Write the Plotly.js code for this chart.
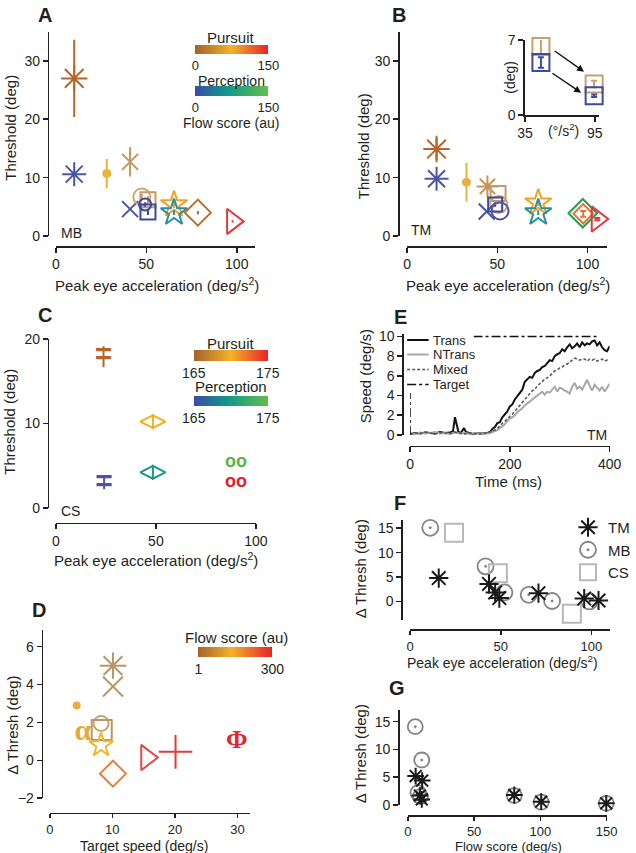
<!DOCTYPE html>
<html><head><meta charset="utf-8">
<script src="https://cdn.plot.ly/plotly-3.0.1.min.js"></script>
<style>html,body{margin:0;padding:0;background:#fff}#chart{width:636px;height:853px}</style>
</head><body><div id="chart"></div>
<script>
const W=636,H=853;
const px=v=>v/W, py=v=>1-v/H;
const FONT='Liberation Sans, Arial, sans-serif';
const INK='#231f20';

// ===== Panel A (MB): peak eye acceleration vs threshold =====
const A_acc=[10.1,10.1,28.1,41.0,41.0,47.5,50.9,49.3,50.9,65.3,65.3,78.5,97.7];
const A_thr=[27.0,10.6,10.7,12.7,4.6,6.7,6.2,5.4,4.1,5.4,4.0,4.0,2.5];
const A_err=[6.6,0,2.5,2.5,0,0.5,0.6,0.4,0.5,0.6,0.4,0.3,0.2];
const A_sym=['asterisk-open','asterisk-open','circle','x-thin-open','x-thin-open','circle-open','square-open','circle-open','square-open','star-open','star-open','diamond-open','triangle-right-open'];
const A_col=['#b5672a','#4b55a8','#e9b23a','#c3965e','#4a53a6','#d4a468','#c49a6a','#3d4aa0','#3a4aa0','#f0a522','#2a8fa0','#bb6d32','#dd3b3b'];
const A_size=[22,20,9,16,16,17,15,12,15,20,20,20,22];

// ===== Panel B (TM) =====
const B_acc=[16.3,16.3,32.9,44.5,50.4,50.8,44.1,48.8,51.5,72.7,72.7,97.4,97.6,105.4];
const B_thr=[14.9,9.8,9.2,8.5,7.3,5.4,4.2,5.4,4.3,5.7,4.0,3.9,3.8,2.9];
const B_err=[1.9,0,3.3,0.8,0,0,0,0.4,0,0.6,0.4,0,0.5,0.2];
const B_sym=['asterisk-open','asterisk-open','circle','asterisk-open','square-open','circle-open','x-thin-open','square-open','circle-open','star-open','star-open','diamond-open','diamond-open','triangle-right-open'];
const B_col=['#b5672a','#4b55a8','#e9b23a','#c3965e','#c49a6a','#d4a468','#4a53a6','#3a4aa0','#4a53b0','#f0a522','#2a8fa0','#2a9a55','#e8742e','#dd3b3b'];
const B_size=[22,20,9,18,15,17,16,14,17,20,20,22,15,22];

// ===== Panel B inset =====
const In_acc=[48.7,48.7,94.5,94.5];
const In_thr=[6.4,4.9,2.9,1.8];
const In_err=[0.7,0.5,0.3,0.12];
const In_col=['#c8a070','#3c4aa0','#c8a070','#3c4aa0'];
const arrowFrom=[[59.3,6.07],[57.3,3.99]];
const arrowTo=[[85.8,4.04],[83.3,2.08]];

// ===== Panel C (CS) =====
const C_acc=[23.8,24.1,48.5,48.5,90.1,90.1];
const C_thr=[17.9,2.9,10.2,4.2,5.3,3.0];
const C_err=[1.25,0.7,0.9,0.9,0,0];
const C_glyph=['=','=','◇','◇','oo','oo'];
const C_col=['#b5672a','#4b55a8','#f0b020','#16998a','#5ab544','#e0202e'];

// ===== Panel D: target speed vs delta threshold =====
const D_spd=[10.1,10.1,4.3,5.3,8.2,8.3,8.2,10.1,15.5,20.1,29.9];
const D_dth=[5.0,3.9,2.9,1.45,1.95,1.6,0.8,-0.7,0.15,0.45,1.0];
const D_sym=['asterisk-open','x-thin-open','circle','α','circle-open','square-open','star-open','diamond-open','triangle-right-open','cross-thin-open','Φ'];
const D_col=['#b8956a','#b8956a','#e8b040','#e4aa35','#c9a56e','#b9976c','#f0b830','#e87b3a','#e04848','#e63a36','#dc2a34'];
const D_size=[22,20,8,30,15,20,18,20,22,24,26];

// ===== Panel E: eye speed traces (TM) =====
const E_names=['Trans','NTrans','Mixed','Target'];
const Tr_t=[0,10,20,30,40,50,60,70,80,86,90,93,97,102,108,112,118,125,135,145,155,160,165,170,175,180,185,190,195,200,205,210,215,220,225,230,235,240,245,250,255,260,265,270,275,280,285,290,295,300,305,310,315,320,325,330,335,340,345,350,355,360,365,370,375,380,385,390,395,400];
const Tr_v=[0.1,0.2,0.15,0.25,0.2,0.15,0.3,0.2,0.25,0.4,1.8,1.0,0.3,0.2,0.7,0.3,0.2,0.1,0.2,0.15,0.2,0.3,0.6,0.8,1.2,1.3,1.8,2.1,2.4,2.9,3.1,3.6,3.9,4.2,4.6,5.4,5.7,5.9,5.8,6.3,6.5,6.6,6.9,7.0,7.3,7.6,7.5,8.0,8.2,8.3,8.7,8.5,8.9,9.2,8.8,9.0,9.3,8.9,9.4,9.1,9.3,9.2,9.5,9.6,9.1,9.4,8.9,8.6,8.5,9.0];
const Ot_t=[0,10,20,30,40,50,60,70,80,90,100,110,120,130,140,150,155,160,165,170,175,180,185,190,195,200,205,210,215,220,225,230,235,240,245,250,255,260,265,270,275,280,285,290,295,300,305,310,315,320,325,330,335,340,345,350,355,360,365,370,375,380,385,390,395,400];
const NTr_v=[0.2,0.1,0.25,0.15,0.2,0.3,0.15,0.2,0.1,0.25,0.15,0.2,0.1,0.2,0.15,0.1,0.15,0.2,0.3,0.4,0.5,0.7,0.9,1.1,1.4,1.7,1.8,2.0,2.3,2.5,2.7,3.0,3.2,3.4,3.6,3.8,4.0,4.2,4.4,4.1,4.4,4.3,4.6,4.9,4.4,4.8,4.7,4.5,4.4,4.2,4.9,5.3,4.7,4.9,4.6,5.1,5.6,5.0,4.5,5.1,4.8,4.5,4.9,4.4,4.8,5.2];
const Mx_v=[0.1,0.2,0.15,0.3,0.2,0.1,0.25,0.2,0.15,0.3,0.2,0.1,0.2,0.15,0.1,0.2,0.2,0.3,0.4,0.5,0.7,0.9,1.2,1.4,1.6,1.9,2.1,2.4,2.7,2.9,3.2,3.5,3.8,4.1,4.5,4.6,5.0,5.2,5.4,5.7,5.8,6.0,6.3,6.5,6.6,6.8,6.9,7.1,7.2,7.4,7.6,7.8,7.7,7.6,7.7,7.7,7.5,7.7,7.6,7.7,7.5,7.6,7.7,7.5,7.6,7.5];
const Tg_t=[0,0,380];
const Tg_v=[0,10,10];

// ===== Panel F: delta threshold vs peak acceleration =====
const F_TM_acc=[15.8,43.5,46.9,49.2,70.8,96.0,103.9];
const F_TM_d=[4.8,3.6,1.85,0.7,1.7,0.6,0.2];
const F_MB_acc=[11.1,41.6,52.0,65.4,78.3,98.9];
const F_MB_d=[15.1,7.2,1.85,1.37,0.1,0.0];
const F_CS_acc=[24.2,48.4,89.2];
const F_CS_d=[14.1,5.8,-2.5];

// ===== Panel G: delta threshold vs flow score =====
const G_TM_flow=[5.9,10.8,9.1,10.5,80.3,100.6,149.7];
const G_TM_d=[5.2,4.4,1.7,1.0,1.8,0.6,0.3];
const G_MB_flow=[5.6,10.5,7.6,9.5,80.3,100.6,149.7];
const G_MB_d=[14.1,8.1,2.2,1.5,1.7,0.5,0.3];

// colour scales
const pursuitScale=[[0,'#a5622a'],[0.5,'#f3b228'],[1,'#e8232b']];
const perceptionScale=[[0,'#3b4ba3'],[0.45,'#12998a'],[1,'#62bd4c']];
const flowScale=[[0,'#a5622a'],[0.45,'#f3b228'],[1,'#e8232b']];

// ---------- builders ----------
const traces=[];
function mk(xa,ya,x,y,err,sym,col,size,cap){
  const filled = sym==='circle';
  traces.push({type:'scatter',mode:'markers',x:[x],y:[y],xaxis:xa,yaxis:ya,cliponaxis:false,showlegend:false,hoverinfo:'skip',
    marker:{symbol:sym,size:size,color:col,line:{color:col,width:filled?0:2}},
    error_y:{type:'data',array:[err],visible:err>0,color:col,thickness:2,width:cap||0}});
}
function gl(xa,ya,x,y,err,ch,col,size,fam,cap){
  traces.push({type:'scatter',mode:'text',x:[x],y:[y],text:[ch],textposition:'middle center',xaxis:xa,yaxis:ya,cliponaxis:false,showlegend:false,hoverinfo:'skip',
    textfont:{size:size,color:col,family:fam},
    error_y:{type:'data',array:[err],visible:err>0,color:col,thickness:2,width:cap||0}});
}
A_acc.forEach((v,i)=>mk('x','y',v,A_thr[i],A_err[i],A_sym[i],A_col[i],A_size[i]));
B_acc.forEach((v,i)=>mk('x2','y2',v,B_thr[i],B_err[i],B_sym[i],B_col[i],B_size[i],i>=12?3:0));
In_acc.forEach((v,i)=>mk('x3','y3',v,In_thr[i],In_err[i],'square-open',In_col[i],17,i===0?0:3));
C_acc.forEach((v,i)=>{
  if(C_glyph[i]==='◇') mk('x4','y4',v,C_thr[i],C_err[i],'diamond-wide-open',C_col[i],18);
  else if(C_glyph[i]==='=') gl('x4','y4',v,C_thr[i],C_err[i],'<b>=</b>',C_col[i],30,FONT);
  else gl('x4','y4',v,C_thr[i],C_err[i],'<b>oo</b>',C_col[i],18,FONT);
});
D_spd.forEach((v,i)=>{
  const s=D_sym[i];
  if(s==='α'||s==='Φ') gl('x5','y5',v,D_dth[i],0,'<b>'+s+'</b>',D_col[i],D_size[i],'Liberation Serif, serif');
  else mk('x5','y5',v,D_dth[i],0,s,D_col[i],D_size[i]);
});

// Panel E lines
const E_style=[{color:'#111',width:2},{color:'#a8a8a8',width:2},{color:'#555',width:1.5,dash:'3px,2px'},{color:'#111',width:1.5,dash:'dashdot'}];
const E_x=[Tr_t,Ot_t,Ot_t,Tg_t], E_y=[Tr_v,NTr_v,Mx_v,Tg_v];
E_names.forEach((n,i)=>traces.push({type:'scatter',mode:'lines',name:n,x:E_x[i],y:E_y[i],xaxis:'x6',yaxis:'y6',line:E_style[i],showlegend:false,hoverinfo:'skip'}));

// Panel F
traces.push({type:'scatter',mode:'markers',name:'MB',legend:'legend2',legendrank:2,x:F_MB_acc,y:F_MB_d,xaxis:'x7',yaxis:'y7',cliponaxis:false,hoverinfo:'skip',
  marker:{symbol:'circle-open-dot',size:16,color:'#858585',line:{color:'#858585',width:1.8}}});
traces.push({type:'scatter',mode:'markers',name:'CS',legend:'legend2',legendrank:3,x:F_CS_acc,y:F_CS_d,xaxis:'x7',yaxis:'y7',cliponaxis:false,hoverinfo:'skip',
  marker:{symbol:'square-open',size:18,color:'#b8b8b8',line:{color:'#b8b8b8',width:2}}});
traces.push({type:'scatter',mode:'markers',name:'TM',legend:'legend2',legendrank:1,x:F_TM_acc,y:F_TM_d,xaxis:'x7',yaxis:'y7',cliponaxis:false,hoverinfo:'skip',
  marker:{symbol:'asterisk-open',size:16,color:'#1a1a1a',line:{color:'#1a1a1a',width:2}}});
// Panel G
traces.push({type:'scatter',mode:'markers',showlegend:false,x:G_MB_flow,y:G_MB_d,xaxis:'x8',yaxis:'y8',cliponaxis:false,hoverinfo:'skip',
  marker:{symbol:'circle-open-dot',size:15,color:'#858585',line:{color:'#858585',width:1.8}}});
traces.push({type:'scatter',mode:'markers',showlegend:false,x:G_TM_flow,y:G_TM_d,xaxis:'x8',yaxis:'y8',cliponaxis:false,hoverinfo:'skip',
  marker:{symbol:'asterisk-open',size:14,color:'#1a1a1a',line:{color:'#1a1a1a',width:2}}});

// colour-bar carriers
['coloraxis','coloraxis2','coloraxis3','coloraxis4','coloraxis5'].forEach(c=>{
  traces.push({type:'scatter',mode:'markers',x:[null],y:[null],xaxis:'x',yaxis:'y',showlegend:false,hoverinfo:'skip',marker:{color:[0],coloraxis:c}});
});
function cbar(cx,ytop,len,thick,vals,txt,fs){
  return {orientation:'h',x:px(cx),xanchor:'center',y:py(ytop),yanchor:'top',len:len,lenmode:'pixels',thickness:thick,
    tickvals:vals,ticktext:txt,ticks:'',outlinewidth:0,xpad:0,ypad:0,tickfont:{size:fs||14,color:INK,family:FONT},title:{text:''}};
}

// ---------- axes ----------
const base={showline:true,linecolor:INK,linewidth:1.6,ticks:'outside',ticklen:5,tickwidth:1.6,tickcolor:INK,
  showgrid:false,zeroline:false,fixedrange:true,tickfont:{size:14,color:INK,family:FONT}};
function xax(x0,x1,range,posY,tv,anchor,extra){
  return Object.assign({},base,{domain:[px(x0),px(x1)],range:range,anchor:anchor||'free',position:anchor?undefined:py(posY),tickvals:tv},extra||{});
}
function yax(yTop,yBot,range,posX,tv,anchor){
  return Object.assign({},base,{domain:[py(yBot),py(yTop)],range:range,anchor:anchor||'free',position:anchor?undefined:px(posX),tickvals:tv});
}

const ann=[];
function txt(x,y,t,size,opt){ann.push(Object.assign({xref:'paper',yref:'paper',x:px(x),y:py(y),text:t,showarrow:false,
  xanchor:'center',yanchor:'middle',font:{size:size,color:INK,family:FONT}},opt||{}));}
// panel letters
[['A',46,15],['B',409,15],['C',46,315],['D',40,610],['E',410,317],['F',410,503],['G',407,688]].forEach(l=>txt(l[1],l[2],'<b>'+l[0]+'</b>',20));
// axis titles
const accTitle='Peak eye acceleration (deg/s<sup>2</sup>)';
txt(161,284,accTitle,15); txt(520,284,accTitle,15); txt(160,559,accTitle,15); txt(515,662,accTitle,14);
txt(147,846,'Target speed (deg/s)',14); txt(521,481,'Time (ms)',15); txt(521,846.5,'Flow score (deg/s)',13);
txt(10,128,'Threshold (deg)',15,{textangle:-90}); txt(372,146,'Threshold (deg)',15,{textangle:-90});
txt(10,422,'Threshold (deg)',15,{textangle:-90}); txt(12,725,'Δ Thresh (deg)',15,{textangle:-90});
txt(374,376,'Speed (deg/s)',15,{textangle:-90}); txt(369,569,'Δ Thresh (deg)',15,{textangle:-90});
txt(369,754,'Δ Thresh (deg)',15,{textangle:-90});
// subject labels
txt(60,233,'MB',14,{xanchor:'left'}); txt(419,230,'TM',14,{xanchor:'left'}); txt(60,511,'CS',14,{xanchor:'left'});
txt(624,435,'TM',14,{xanchor:'right'});
// colour bar titles
txt(237,37,'Pursuit',15); txt(237,80.5,'Perception',14); txt(237,123.5,'Flow score (au)',14);
txt(237,343,'Pursuit',15); txt(237,387,'Perception',15); txt(242,637,'Flow score (au)',15);
// inset labels
txt(522,77,'(deg)',14,{textangle:-90}); txt(577,130,'(°/s<sup>2</sup>)',14);
arrowFrom.forEach((f,i)=>ann.push({xref:'x3',yref:'y3',axref:'x3',ayref:'y3',x:arrowTo[i][0],y:arrowTo[i][1],ax:f[0],ay:f[1],
  showarrow:true,arrowhead:2,arrowsize:1,arrowwidth:1.4,arrowcolor:'#111',text:''}));

// panel E key (white backing + samples + labels)
const shapes=[{type:'rect',xref:'paper',yref:'paper',x0:px(414),x1:px(485),y0:py(393),y1:py(331),fillcolor:'#fff',line:{width:0},layer:'above'}];
const E_rows=[340,354.5,369.5,384.5];
E_names.forEach((n,i)=>{
  const st=E_style[i];
  shapes.push({type:'line',xref:'paper',yref:'paper',x0:px(417),x1:px(439),y0:py(E_rows[i]),y1:py(E_rows[i]),layer:'above',
    line:{color:st.color,width:st.width,dash:st.dash||'solid'}});
  txt(441,E_rows[i],n,13,{xanchor:'left'});
});

const small={tickfont:{size:13,color:INK,family:FONT},ticklen:4};
const layout={
  width:W,height:H,margin:{l:0,r:0,t:0,b:0},paper_bgcolor:'#fff',plot_bgcolor:'rgba(0,0,0,0)',
  font:{family:FONT,color:INK,size:14},showlegend:true,
  xaxis:xax(57.3,261,[0,110],246,[0,50,100]),
  yaxis:yax(31.7,236,[0,35],49,[0,10,20,30]),
  xaxis2:xax(417,622,[0,111],246,[0,50,100]),
  yaxis2:yax(31.7,236,[0,35],407.7,[0,10,20,30]),
  xaxis3:xax(537.7,613,[35,98.3],0,[35,95],'y3'),
  yaxis3:yax(40,115,[0,7],0,[0,7],'x3'),
  xaxis4:xax(57.3,262,[0,100],522.7,[0,50,100]),
  yaxis4:yax(339,507.7,[0,20],49,[0,10,20]),
  xaxis5:xax(51,256,[0,32],812.7,[0,10,20,30],null,small),
  yaxis5:yax(630,798.3,[-2,6.88],42.7,[-2,0,2,4,6]),
  xaxis6:xax(420,624.3,[0,400],445.7,[0,200,400]),
  yaxis6:yax(333.5,435,[0,10.3],412,[0,2,4,6,8,10]),
  xaxis7:xax(420,624.3,[0,110],629.3,[0,50,100],null,small),
  yaxis7:yax(520,620,[-3.8,16.7],411,[0,5,10,15]),
  xaxis8:xax(417.7,621.3,[0,150],815,[0,50,100,150],null,small),
  yaxis8:yax(710,805,[0,17.1],407.7,[0,5,10,15]),
  coloraxis:{cmin:0,cmax:150,colorscale:pursuitScale,colorbar:cbar(237.5,45,73,9,[0,150],['0','150'],13)},
  coloraxis2:{cmin:0,cmax:150,colorscale:perceptionScale,colorbar:cbar(237.5,86,73,10,[0,150],['0','150'],13)},
  coloraxis3:{cmin:165,cmax:175,colorscale:pursuitScale,colorbar:cbar(236.3,350,74,11,[165,175],['165','175'])},
  coloraxis4:{cmin:165,cmax:175,colorscale:perceptionScale,colorbar:cbar(236.3,396,74,10,[165,175],['165','175'])},
  coloraxis5:{cmin:1,cmax:300,colorscale:flowScale,colorbar:cbar(241,646.7,74,9.5,[1,300],['1','300'])},
  legend2:{x:px(582),y:py(511),xanchor:'left',yanchor:'top',bgcolor:'rgba(0,0,0,0)',borderwidth:0,font:{size:15,color:INK,family:FONT},
    tracegroupgap:0,itemwidth:30},
  shapes:shapes,
  annotations:ann
};
Plotly.newPlot('chart',traces,layout,{staticPlot:true,displayModeBar:false});
</script></body></html>
